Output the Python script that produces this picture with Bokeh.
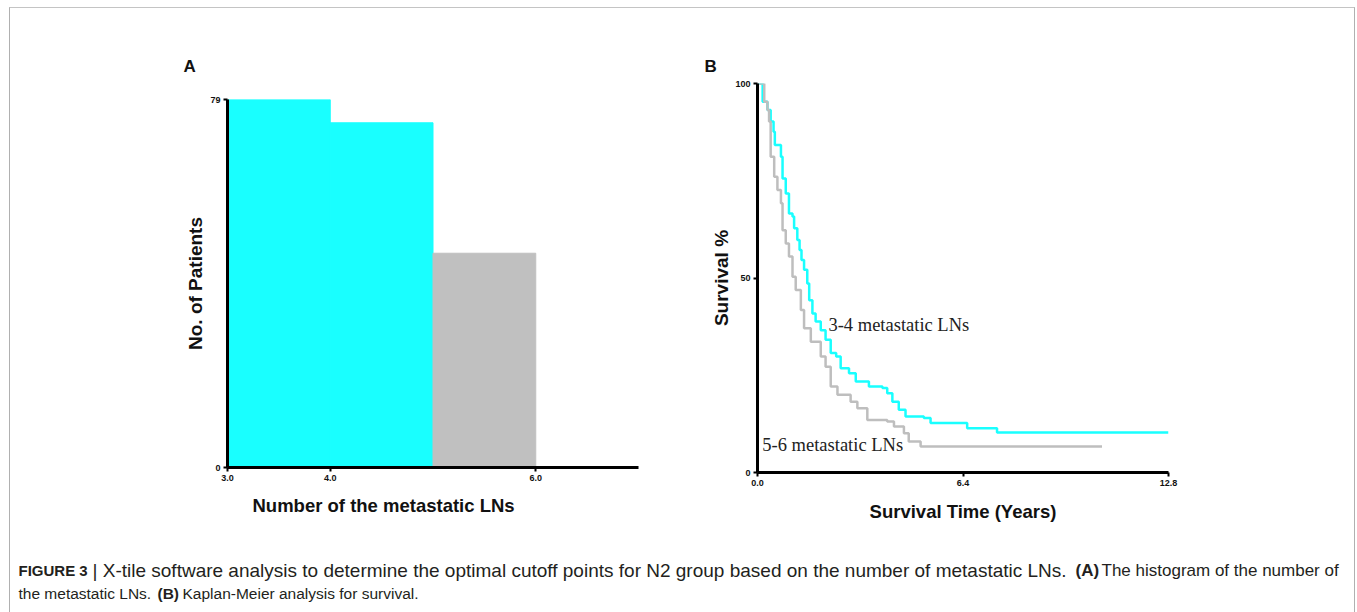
from bokeh.plotting import figure
from bokeh.layouts import column, row
from bokeh.models import FixedTicker, NumeralTickFormatter, Label, Range1d, Title
from bokeh.core.properties import value
from bokeh.embed import file_html
from bokeh.resources import INLINE

# ---------------- data ----------------
bin_left = [3.0, 4.0, 5.0]
bin_right = [4.0, 5.0, 6.0]
patients = [79, 74, 46]
bin_colors = ["#19FFFF", "#19FFFF", "#C0C0C0"]
hist_xticks = [3.0, 4.0, 6.0]
hist_yticks = [0, 79]

km34_time = [0.0, 0.16, 0.31, 0.41, 0.50, 0.54, 0.73, 0.78, 0.88, 0.98,
             1.09, 1.14, 1.24, 1.31, 1.37, 1.45, 1.55, 1.61, 1.71, 1.81,
             1.97, 2.12, 2.28, 2.45, 2.59, 2.85, 3.06, 3.47, 3.89, 4.04,
             4.20, 4.40, 4.61, 5.18, 5.39, 6.53, 7.46, 12.8]
km34_surv = [100, 95.3, 93.2, 90.2, 87.6, 84.2, 81.2, 75.6, 71.7, 66.6,
             65.8, 62.8, 59.8, 57.2, 54.6, 52.1, 48.6, 44.3, 40.9, 38.8,
             36.6, 34.1, 30.7, 29.8, 26.8, 25.5, 23.4, 22.1, 21.7, 20.4,
             18.2, 16.1, 14.4, 14.0, 12.7, 11.4, 10.3, 10.3]
km56_time = [0.0, 0.21, 0.31, 0.36, 0.41, 0.52, 0.62, 0.73, 0.78, 0.88,
             0.98, 1.09, 1.19, 1.35, 1.45, 1.66, 1.97, 2.12, 2.28, 2.49,
             2.90, 3.11, 3.42, 4.04, 4.25, 4.56, 4.71, 5.08, 10.73]
km56_surv = [100, 95.3, 93.2, 90.2, 81.2, 76.0, 72.6, 69.2, 62.3, 58.9,
             55.5, 50.3, 46.9, 41.8, 37.1, 33.6, 29.8, 27.2, 22.1, 20.0,
             18.2, 16.5, 13.5, 13.1, 11.8, 10.1, 8.0, 6.7, 6.7]
km_xticks = [0.0, 6.4, 12.8]
km_yticks = [0, 50, 100]
series_names = ["3-4 metastatic LNs", "5-6 metastatic LNs"]
series_colors = ["#19FFFF", "#BEBEBE"]

SANS = "Liberation Sans"
SERIF = "Liberation Serif"


def style_axes(p):
    p.xgrid.visible = False
    p.ygrid.visible = False
    p.outline_line_color = None
    for ax in p.axis:
        ax.axis_line_width = 3
        ax.axis_line_color = "black"
        ax.major_tick_line_width = 2
        ax.major_tick_line_color = "black"
        ax.major_tick_in = 0
        ax.major_tick_out = 4
        ax.minor_tick_line_color = None
        ax.major_label_text_font = SANS
        ax.major_label_text_font_style = "bold"
        ax.major_label_text_font_size = "9px"
        ax.major_label_text_color = "#111111"
        ax.major_label_standoff = 3
        ax.axis_label_text_font = SANS
        ax.axis_label_text_font_style = "bold"
        ax.axis_label_text_font_size = "19px"
        ax.axis_label_text_color = "#111111"


def style_title(t, size="18.5px"):
    t.text_font = SANS
    t.text_font_style = "bold"
    t.text_font_size = size
    t.text_color = "#111111"


# ---------------- panel A ----------------
pA = figure(width=670, height=522, x_range=Range1d(3, 7), y_range=Range1d(0, 79),
            output_backend="svg", toolbar_location=None, frame_align=False,
            min_border_left=217, min_border_right=42, min_border_top=91, min_border_bottom=63)
pA.quad(left=bin_left, right=bin_right, top=patients, bottom=0,
        fill_color=bin_colors, line_color=bin_colors, line_width=1)
style_axes(pA)
pA.xaxis.ticker = FixedTicker(ticks=hist_xticks)
pA.xaxis.formatter = NumeralTickFormatter(format="0.0")
pA.yaxis.ticker = FixedTicker(ticks=hist_yticks)
pA.yaxis.axis_label = "No. of Patients"
pA.yaxis.axis_label_standoff = 1
pA.title.text = "A"
pA.title.align = "left"
pA.title.offset = -44
pA.title.standoff = 47
style_title(pA.title, "17px")
tAx = Title(text="Number of the metastatic LNs", align="left", offset=25, standoff=19)
style_title(tAx)
pA.add_layout(tAx, "below")

# ---------------- panel B ----------------
pB = figure(width=674, height=522, x_range=Range1d(0, 12.8), y_range=Range1d(0, 100),
            output_backend="svg", toolbar_location=None, frame_align=False,
            min_border_left=77, min_border_right=186, min_border_top=75, min_border_bottom=58)
pB.step(km34_time, km34_surv, mode="after", line_color=series_colors[0], line_width=2.5)
pB.step(km56_time, km56_surv, mode="after", line_color=series_colors[1], line_width=2.5)
style_axes(pB)
pB.xaxis.ticker = FixedTicker(ticks=km_xticks)
pB.xaxis.formatter = NumeralTickFormatter(format="0.0")
pB.yaxis.ticker = FixedTicker(ticks=km_yticks)
pB.yaxis.axis_label = "Survival %"
pB.yaxis.axis_label_standoff = 0
pB.xaxis.axis_label = "Survival Time (Years)"
pB.xaxis.axis_label_standoff = 12
pB.xaxis.axis_label_text_font_size = "18.5px"
pB.text(x=[2.21, 0.15], y=[37.9, 7.1], text=series_names,
        text_font=value(SERIF), text_font_size="18.5px", text_color="#222222",
        text_align="left", text_baseline="middle")
pB.title.text = "B"
pB.title.align = "left"
pB.title.offset = -53
pB.title.standoff = 16
style_title(pB.title, "17px")

# ---------------- caption ----------------
pC = figure(width=1344, height=82, x_range=Range1d(0, 1344), y_range=Range1d(0, 82),
            output_backend="svg", toolbar_location=None, min_border=0)
pC.axis.visible = False
pC.xgrid.visible = False
pC.ygrid.visible = False
pC.outline_line_color = None
cap_segments = [
    ("FIGURE 3", "bold", "15px", 8, 42),
    ("| X-tile software analysis to determine the optimal cutoff points for N2 group based on the number of metastatic LNs.", "normal", "19px", 82, 42),
    ("(A)", "bold", "17px", 1065, 42),
    ("The histogram of the number of", "normal", "17px", 1091, 42),
    ("the metastatic LNs.", "normal", "15.5px", 8, 19),
    ("(B)", "bold", "15.5px", 147, 19),
    ("Kaplan-Meier analysis for survival.", "normal", "15.5px", 172, 19),
]
for txt, style, size, cx, cy in cap_segments:
    pC.add_layout(Label(x=cx, y=cy, text=txt, text_align="left", text_baseline="middle",
                        text_font=SANS, text_font_style=style, text_font_size=size,
                        text_color="#231F20"))

layout = column(row(pA, pB), pC, margin=(7, 0, 0, 9),
                styles={"border-top": "1px solid #c4c4c4", "border-left": "1px solid #b0b0b0",
                        "border-right": "1px solid #b0b0b0"})

open("out.html", "w").write(file_html(layout, INLINE))
